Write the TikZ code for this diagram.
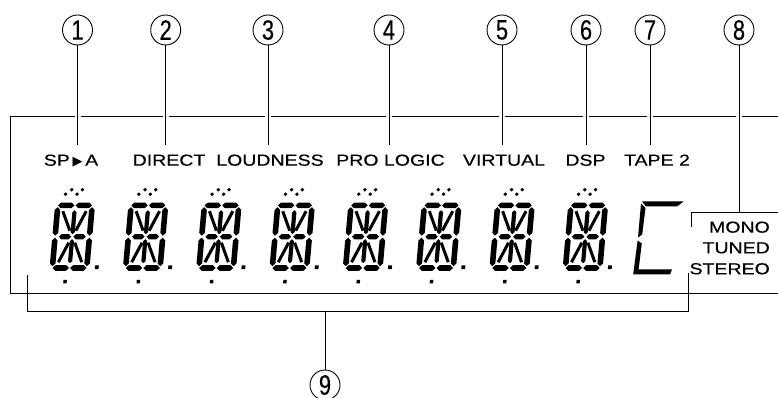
\documentclass[tikz,border=0pt]{standalone}
\usepackage{fontspec}
\setmainfont{Liberation Sans}
\newfontfamily\labfont[FakeStretch=1.22,FakeBold=0.4]{Liberation Sans}
\newfontfamily\numfont[FakeStretch=0.78,FakeBold=0.3]{Liberation Sans}
\newfontfamily\symfont{DejaVu Sans}
% horizontal segment: centre b, from a1 to a2, half thickness
\newcommand\hs[4]{\fill (#2,#1) -- (#2+#4,#1+#4) -- (#3-#4,#1+#4) -- (#3,#1) -- (#3-#4,#1-#4) -- (#2+#4,#1-#4) -- cycle;}
% vertical segment: centre a, from b1 to b2, half thickness
\newcommand\vs[4]{\fill (#1,#2) -- (#1+#4,#2+#4) -- (#1+#4,#3-#4) -- (#1,#3) -- (#1-#4,#3-#4) -- (#1-#4,#2+#4) -- cycle;}
\newcommand\dia[2]{\fill (#1,#2+1.9) -- (#1+1.9,#2) -- (#1,#2-1.9) -- (#1-1.9,#2) -- cycle;}
\newcommand\sixteen[1]{%
\begin{scope}[shift={(#1,127.3)}, xslant=0.088]
 \hs{65.3}{3}{19.4}{2.8} \hs{65.3}{20.6}{37}{2.8}
 \hs{2.7}{3}{19.4}{2.8} \hs{2.7}{20.6}{37}{2.8}
 \vs{2.8}{4.5}{33}{2.8} \vs{2.8}{35}{63.5}{2.8}
 \vs{37.2}{4.5}{33}{2.8} \vs{37.2}{35}{63.5}{2.8}
 \vs{20}{7.5}{31.5}{2.1} \vs{20}{36.5}{60.5}{2.1}
 \hs{34}{6.5}{19}{2.6} \hs{34}{21}{33.5}{2.6}
 \draw[line width=3pt] (8.3,59.5) -- (17,40) (31.7,59.5) -- (23,40)
   (8.3,8.5) -- (17,28) (31.7,8.5) -- (23,28);
 \fill (45.3,1.6) rectangle (49.1,5.4);
 \fill (15,-12.7) rectangle (18.4,-9.3);
 \dia{9.5}{76.5} \dia{15.3}{81} \dia{21}{76.5} \dia{26}{81}
\end{scope}}
\begin{document}
\begin{tikzpicture}[x=1pt,y=1pt,
  ln/.style={line width=1pt},
  halo/.style={ln, preaction={draw=white, line width=6pt, shorten <=3pt, shorten >=3pt}},
  circnum/.style={circle, draw, line width=0.9pt, minimum size=30pt, inner sep=0pt,
    font=\numfont\fontsize{28}{28}\selectfont},
  lab/.style={inner sep=0pt, font=\labfont\fontsize{16}{19}\selectfont, anchor=base}]
\useasboundingbox (0,0) rectangle (778,398);
% frame
\draw[ln] (790,281.3) -- (10,281.3) -- (10,104) -- (790,104);
% circled numbers
\node[circnum] (c1) at (77.5,368) {1};
\node[circnum] (c2) at (165.7,368) {2};
\node[circnum] (c3) at (268,368) {3};
\node[circnum] (c4) at (389,368) {4};
\node[circnum] (c5) at (502,368) {5};
\node[circnum] (c6) at (586,368) {6};
\node[circnum] (c7) at (650,368) {7};
\node[circnum] (c8) at (739,368) {8};
\node[circnum] (c9) at (325,13) {9};
% labels
\node[lab] (t1) at (71,232.3) {SP\,{\symfont\fontsize{13}{13}\selectfont ▶}\,A};
\node[lab] (t2) at (169,232.3) {DIRECT};
\node[lab] (t3) at (270,232.3) {LOUDNESS};
\node[lab] (t4) at (390.5,232.3) {PRO LOGIC};
\node[lab] (t5) at (504,232.3) {VIRTUAL};
\node[lab] (t6) at (585.5,232.3) {DSP};
\node[lab] (t7) at (657,232.3) {TAPE 2};
\node[lab, anchor=base east] (m1) at (770,165.3) {MONO};
\node[lab, anchor=base east] (m2) at (770,144.7) {TUNED};
\node[lab, anchor=base east] (m3) at (770,123.7) {STEREO};
% leaders
\foreach \i in {1,...,7} {\coordinate (e\i) at (c\i.south |- 0,253);}
\foreach \i in {1,...,7} {\draw[halo] (c\i.south) -- (e\i);}
\coordinate (e8) at (739,185);
\coordinate (b8) at (691,185);
\coordinate (b8e) at (790,185);
\coordinate (b8d) at (691,171);
\draw[halo] (c8.south) -- (e8);
\draw[ln] (b8d) -- (b8) -- (b8e);
% bracket 9
\coordinate (b9l) at (27,123);
\coordinate (b9a) at (27,86);
\coordinate (b9b) at (688,86);
\coordinate (b9r) at (688,125);
\coordinate (b9m) at (325,86);
\draw[ln] (b9l) -- (b9a) -- (b9b) -- (b9r);
\draw[ln] (b9m) -- (c9.north);
% digits
\foreach \k in {0,...,7} {\sixteen{49.3+73.3*\k}}
% partial digit
\fill (642,196.5) -- (683.5,196.5) -- (677,191.5) -- (646,191.5) -- cycle;
\fill (641,194.5) -- (645.5,190) -- (642.2,163.5) -- (638,160.5) -- cycle;
\fill (637.6,157.5) -- (641.8,154.5) -- (638.6,128.5) -- (633.2,123.8) -- cycle;
\fill (633,123.5) -- (670,123.5) -- (672,128.5) -- (638.6,128.5) -- cycle;
\end{tikzpicture}
\end{document}
